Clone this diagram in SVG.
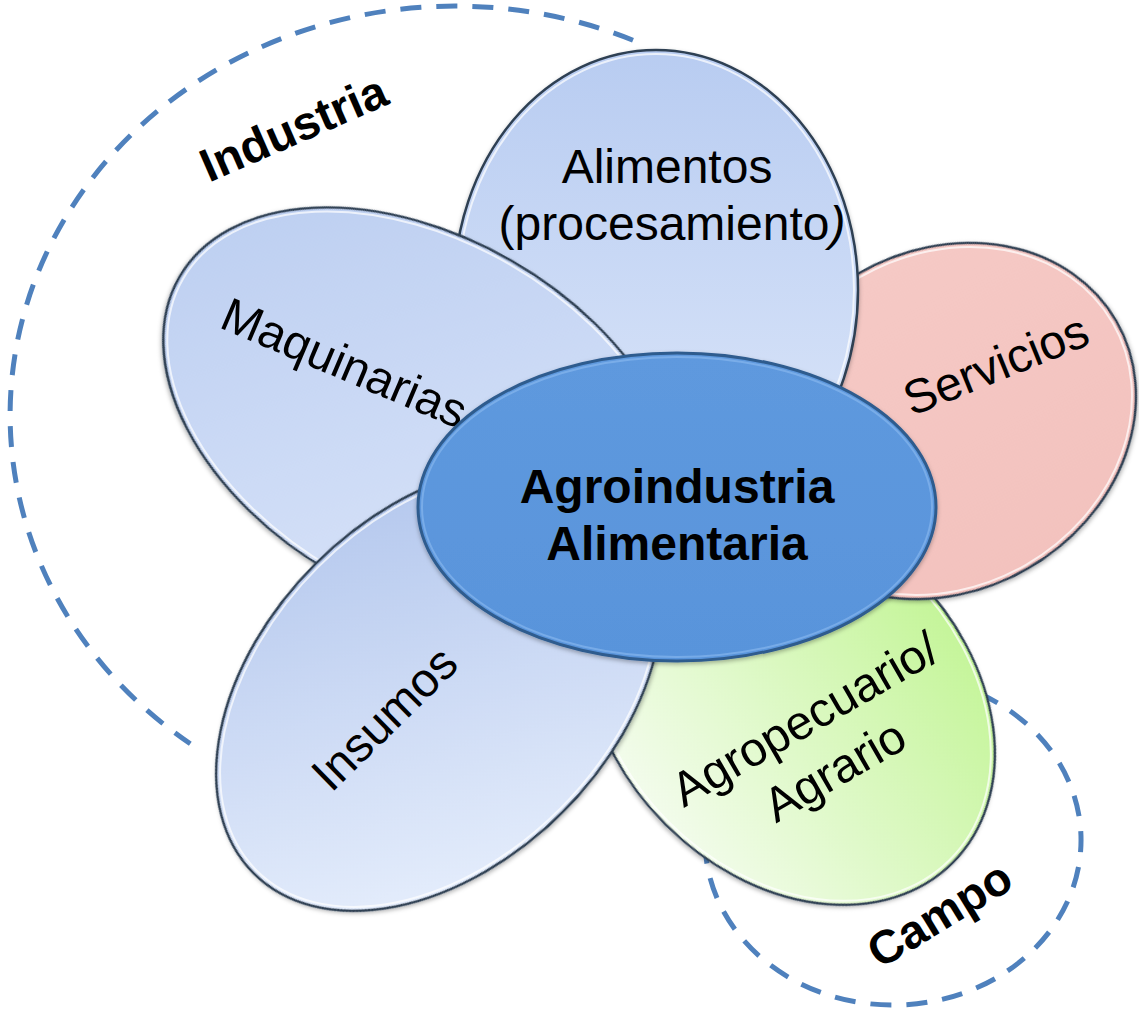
<svg xmlns="http://www.w3.org/2000/svg" width="1139" height="1014" viewBox="0 0 1139 1014">
<defs>
<style>
.petal{stroke:#2E3F52;stroke-width:2.5}
.rim{fill:none;stroke:#FFFFFF;stroke-opacity:0.7;stroke-width:2}
.lbl{font-family:"Liberation Sans",Arial,sans-serif;font-size:48px;fill:#000000;text-anchor:middle}
.bold{font-weight:bold}
.dash{fill:none;stroke:#4F81BD;stroke-width:5;stroke-dasharray:21 15}
</style>
<linearGradient id="gAli" x1="0" y1="0" x2="0" y2="1">
<stop offset="0" stop-color="#B8CCF1"/><stop offset="1" stop-color="#DEE8FA"/>
</linearGradient>
<linearGradient id="gMaq" x1="0" y1="0" x2="1" y2="0.6">
<stop offset="0" stop-color="#B9CCF0"/><stop offset="1" stop-color="#D9E4F9"/>
</linearGradient>
<linearGradient id="gIns" x1="0.8" y1="0.1" x2="0.1" y2="0.9">
<stop offset="0" stop-color="#B6C9EE"/><stop offset="1" stop-color="#E6EEFC"/>
</linearGradient>
<linearGradient id="gSer" x1="0" y1="0" x2="0" y2="1">
<stop offset="0" stop-color="#F5C9C5"/><stop offset="1" stop-color="#F3C2BE"/>
</linearGradient>
<linearGradient id="gAgr" x1="0.5" y1="0" x2="0.3" y2="1">
<stop offset="0" stop-color="#C5F59A"/><stop offset="1" stop-color="#F4FCEE"/>
</linearGradient>
<linearGradient id="gCen" x1="0" y1="0" x2="0" y2="1">
<stop offset="0" stop-color="#5E99DE"/><stop offset="1" stop-color="#5994DB"/>
</linearGradient>
<filter id="sh" x="-10%" y="-10%" width="120%" height="120%">
<feDropShadow dx="0" dy="2" stdDeviation="2" flood-color="#000000" flood-opacity="0.3"/>
</filter>
</defs>
<rect width="1139" height="1014" fill="#FFFFFF"/>

<g id="connectors">
<path class="dash" d="M 633 40.2 A 445 409 0 0 0 190.3 743.8"/>
<path class="dash" d="M 978.9 693.3 A 188 165 0 1 1 705.6 852.9"/>
</g>

<g id="agropecuario">
<ellipse class="petal" filter="url(#sh)" cx="0" cy="0" rx="230" ry="176" fill="url(#gAgr)" transform="translate(790,700) rotate(45)"/>
<ellipse class="rim" cx="0" cy="0" rx="226" ry="172" transform="translate(790,700) rotate(45)"/>
<g transform="translate(828,759) rotate(-30)">
<text class="lbl" x="0" y="-29.75">Agropecuario/</text>
<text class="lbl" x="0" y="29.75">Agrario</text>
</g>
</g>

<g id="servicios">
<ellipse class="petal" filter="url(#sh)" cx="0" cy="0" rx="200" ry="170" fill="url(#gSer)" transform="translate(943,421) rotate(-30)"/>
<ellipse class="rim" cx="0" cy="0" rx="196" ry="166" transform="translate(943,421) rotate(-30)"/>
<text class="lbl" transform="translate(1002,380) rotate(-22)">Servicios</text>
</g>

<g id="alimentos">
<ellipse class="petal" filter="url(#sh)" cx="656" cy="290" rx="202" ry="240" fill="url(#gAli)"/>
<ellipse class="rim" cx="656" cy="290" rx="198" ry="236"/>
<text class="lbl" x="667" y="183">Alimentos</text>
<text class="lbl" x="672" y="240">(procesamiento<tspan font-style="italic">)</tspan></text>
</g>

<g id="maquinarias">
<ellipse class="petal" filter="url(#sh)" cx="0" cy="0" rx="280" ry="180" fill="url(#gMaq)" transform="translate(422,417) rotate(30)"/>
<ellipse class="rim" cx="0" cy="0" rx="276" ry="176" transform="translate(422,417) rotate(30)"/>
<text class="lbl" transform="translate(338,378) rotate(23)">Maquinarias</text>
</g>

<g id="insumos">
<ellipse class="petal" filter="url(#sh)" cx="0" cy="0" rx="262" ry="175" fill="url(#gIns)" transform="translate(439,688) rotate(-45)"/>
<ellipse class="rim" cx="0" cy="0" rx="258" ry="171" transform="translate(439,688) rotate(-45)"/>
<text class="lbl" transform="translate(396,730) rotate(-44.5)">Insumos</text>
</g>

<g id="centro">
<ellipse filter="url(#sh)" cx="677" cy="507" rx="259" ry="154" fill="url(#gCen)" stroke="#2F5B8E" stroke-width="3"/>
<ellipse cx="677" cy="507" rx="255" ry="150" fill="none" stroke="#8CBAF0" stroke-opacity="0.6" stroke-width="2"/>
<text class="lbl bold" x="677" y="503">Agroindustria</text>
<text class="lbl bold" x="677" y="560">Alimentaria</text>
</g>

<g id="labels">
<text class="lbl bold" transform="translate(300,143) rotate(-23.6)" style="font-size:47px">Industria</text>
<text class="lbl bold" transform="translate(948,928) rotate(-31.5)" style="font-size:47px">Campo</text>
</g>
</svg>
